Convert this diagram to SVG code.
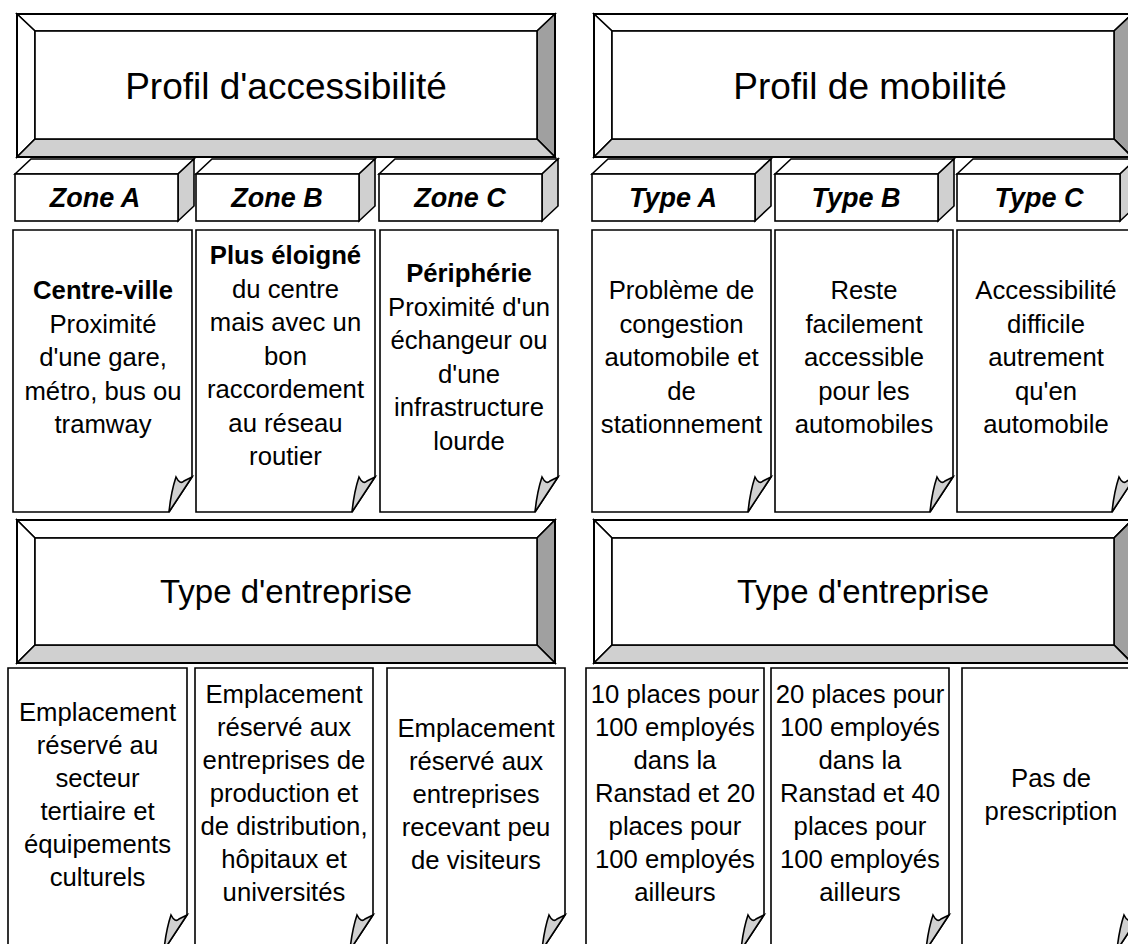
<svg xmlns="http://www.w3.org/2000/svg" width="1128" height="944" viewBox="0 0 1128 944">
<style>
.ln{stroke:#000;stroke-width:1.6;stroke-linejoin:miter}
.w{fill:#fff}
.g1{fill:#d0d0d0}
.g2{fill:#a0a0a0}
.title{font-family:"Liberation Sans",Arial,sans-serif;font-size:37px;fill:#000;text-anchor:middle}
.zone{font-family:"Liberation Sans",Arial,sans-serif;font-size:27px;font-weight:bold;font-style:italic;fill:#000;text-anchor:middle}
.card{font-family:"Liberation Sans",Arial,sans-serif;font-size:25.7px;fill:#000;text-anchor:middle}
.b{font-weight:bold}
</style>
<rect width="1128" height="944" fill="#fff"/>

<!-- Bevel title boxes -->
<g id="profil-accessibilite">
<polygon class="w ln" points="17,14 555,14 537,31 35,31"/>
<polygon class="w ln" points="17,14 35,31 35,139 17,157"/>
<polygon class="g2 ln" points="555,14 555,157 537,139 537,31"/>
<polygon class="g1 ln" points="17,157 35,139 537,139 555,157"/>
<rect class="w ln" x="35" y="31" width="502" height="108"/>
<rect x="17" y="14" width="538" height="143" fill="none" stroke="#000" stroke-width="2"/>
<text class="title" x="286" y="99">Profil d'accessibilité</text>
</g>
<g id="profil-mobilite">
<polygon class="w ln" points="594,14 1132,14 1114,31 612,31"/>
<polygon class="w ln" points="594,14 612,31 612,139 594,157"/>
<polygon class="g2 ln" points="1132,14 1132,157 1114,139 1114,31"/>
<polygon class="g1 ln" points="594,157 612,139 1114,139 1132,157"/>
<rect class="w ln" x="612" y="31" width="502" height="108"/>
<rect x="594" y="14" width="538" height="143" fill="none" stroke="#000" stroke-width="2"/>
<text class="title" x="870" y="99">Profil de mobilité</text>
</g>
<g id="type-entreprise-left">
<polygon class="w ln" points="17,520 555,520 537,538 35,538"/>
<polygon class="w ln" points="17,520 35,538 35,645 17,663"/>
<polygon class="g2 ln" points="555,520 555,663 537,645 537,538"/>
<polygon class="g1 ln" points="17,663 35,645 537,645 555,663"/>
<rect class="w ln" x="35" y="538" width="502" height="107"/>
<rect x="17" y="520" width="538" height="143" fill="none" stroke="#000" stroke-width="2"/>
<text class="title" x="286" y="603" style="font-size:33px">Type d'entreprise</text>
</g>
<g id="type-entreprise-right">
<polygon class="w ln" points="594,520 1132,520 1114,538 612,538"/>
<polygon class="w ln" points="594,520 612,538 612,645 594,663"/>
<polygon class="g2 ln" points="1132,520 1132,663 1114,645 1114,538"/>
<polygon class="g1 ln" points="594,663 612,645 1114,645 1132,663"/>
<rect class="w ln" x="612" y="538" width="502" height="107"/>
<rect x="594" y="520" width="538" height="143" fill="none" stroke="#000" stroke-width="2"/>
<text class="title" x="863" y="603" style="font-size:33px">Type d'entreprise</text>
</g>

<!-- 3D label boxes -->
<g id="zone-a">
<polygon class="w ln" points="15,174 31,159 194,159 178,174"/>
<polygon class="g1 ln" points="178,174 194,159 194,206 178,221"/>
<rect class="w ln" x="15" y="174" width="163" height="47"/>
<text class="zone" x="95" y="207">Zone A</text>
</g>
<g id="zone-b">
<polygon class="w ln" points="196,174 212,159 375,159 359,174"/>
<polygon class="g1 ln" points="359,174 375,159 375,206 359,221"/>
<rect class="w ln" x="196" y="174" width="163" height="47"/>
<text class="zone" x="277" y="207">Zone B</text>
</g>
<g id="zone-c">
<polygon class="w ln" points="379,174 395,159 558,159 542,174"/>
<polygon class="g1 ln" points="542,174 558,159 558,206 542,221"/>
<rect class="w ln" x="379" y="174" width="163" height="47"/>
<text class="zone" x="460" y="207">Zone C</text>
</g>
<g id="type-a">
<polygon class="w ln" points="592,174 608,159 771,159 755,174"/>
<polygon class="g1 ln" points="755,174 771,159 771,206 755,221"/>
<rect class="w ln" x="592" y="174" width="163" height="47"/>
<text class="zone" x="673" y="207">Type A</text>
</g>
<g id="type-b">
<polygon class="w ln" points="775,174 791,159 954,159 938,174"/>
<polygon class="g1 ln" points="938,174 954,159 954,206 938,221"/>
<rect class="w ln" x="775" y="174" width="163" height="47"/>
<text class="zone" x="856" y="207">Type B</text>
</g>
<g id="type-c">
<polygon class="w ln" points="957,174 973,159 1136,159 1120,174"/>
<polygon class="g1 ln" points="1120,174 1136,159 1136,206 1120,221"/>
<rect class="w ln" x="957" y="174" width="163" height="47"/>
<text class="zone" x="1039" y="207">Type C</text>
</g>

<!-- Row 1 cards -->
<g id="card-zone-a">
<path class="w ln" d="M13,230 H192 V477 L169,512 H13 Z"/>
<path class="g1 ln" d="M169,512 Q171,492 176,477 Q180,485 184,481 L192,477 Z"/>
<text class="card"><tspan class="b" x="103" y="299">Centre-ville</tspan><tspan x="103" dy="33.5">Proximité</tspan><tspan x="103" dy="33.5">d'une gare,</tspan><tspan x="103" dy="33.5">métro, bus ou</tspan><tspan x="103" dy="33.5">tramway</tspan></text>
</g>
<g id="card-zone-b">
<path class="w ln" d="M196,230 H375 V477 L352,512 H196 Z"/>
<path class="g1 ln" d="M352,512 Q354,492 359,477 Q363,485 367,481 L375,477 Z"/>
<text class="card"><tspan class="b" x="285.5" y="264">Plus éloigné</tspan><tspan x="285.5" dy="33.5">du centre</tspan><tspan x="285.5" dy="33.5">mais avec un</tspan><tspan x="285.5" dy="33.5">bon</tspan><tspan x="285.5" dy="33.5">raccordement</tspan><tspan x="285.5" dy="33.5">au réseau</tspan><tspan x="285.5" dy="33.5">routier</tspan></text>
</g>
<g id="card-zone-c">
<path class="w ln" d="M380,230 H558 V477 L535,512 H380 Z"/>
<path class="g1 ln" d="M535,512 Q537,492 542,477 Q546,485 550,481 L558,477 Z"/>
<text class="card"><tspan class="b" x="469" y="282">Périphérie</tspan><tspan x="469" dy="33.5">Proximité d'un</tspan><tspan x="469" dy="33.5">échangeur ou</tspan><tspan x="469" dy="33.5">d'une</tspan><tspan x="469" dy="33.5">infrastructure</tspan><tspan x="469" dy="33.5">lourde</tspan></text>
</g>
<g id="card-type-a">
<path class="w ln" d="M592,230 H771 V477 L748,512 H592 Z"/>
<path class="g1 ln" d="M748,512 Q750,492 755,477 Q759,485 763,481 L771,477 Z"/>
<text class="card"><tspan x="681.5" y="299">Problème de</tspan><tspan x="681.5" dy="33.5">congestion</tspan><tspan x="681.5" dy="33.5">automobile et</tspan><tspan x="681.5" dy="33.5">de</tspan><tspan x="681.5" dy="33.5">stationnement</tspan></text>
</g>
<g id="card-type-b">
<path class="w ln" d="M775,230 H953 V477 L930,512 H775 Z"/>
<path class="g1 ln" d="M930,512 Q932,492 937,477 Q941,485 945,481 L953,477 Z"/>
<text class="card"><tspan x="864" y="299">Reste</tspan><tspan x="864" dy="33.5">facilement</tspan><tspan x="864" dy="33.5">accessible</tspan><tspan x="864" dy="33.5">pour les</tspan><tspan x="864" dy="33.5">automobiles</tspan></text>
</g>
<g id="card-type-c">
<path class="w ln" d="M957,230 H1135 V477 L1112,512 H957 Z"/>
<path class="g1 ln" d="M1112,512 Q1114,492 1119,477 Q1123,485 1127,481 L1135,477 Z"/>
<text class="card"><tspan x="1046" y="299">Accessibilité</tspan><tspan x="1046" dy="33.5">difficile</tspan><tspan x="1046" dy="33.5">autrement</tspan><tspan x="1046" dy="33.5">qu'en</tspan><tspan x="1046" dy="33.5">automobile</tspan></text>
</g>

<!-- Row 2 cards -->
<g id="card-ent-a">
<path class="w ln" d="M8,668 H187 V915 L164,950 H8 Z"/>
<path class="g1 ln" d="M164,950 Q166,930 171,915 Q175,923 179,919 L187,915 Z"/>
<text class="card"><tspan x="97.5" y="720.5">Emplacement</tspan><tspan x="97.5" dy="33">réservé au</tspan><tspan x="97.5" dy="33">secteur</tspan><tspan x="97.5" dy="33">tertiaire et</tspan><tspan x="97.5" dy="33">équipements</tspan><tspan x="97.5" dy="33">culturels</tspan></text>
</g>
<g id="card-ent-b">
<path class="w ln" d="M195,668 H373 V915 L350,950 H195 Z"/>
<path class="g1 ln" d="M350,950 Q352,930 357,915 Q361,923 365,919 L373,915 Z"/>
<text class="card"><tspan x="284" y="703">Emplacement</tspan><tspan x="284" dy="33">réservé aux</tspan><tspan x="284" dy="33">entreprises de</tspan><tspan x="284" dy="33">production et</tspan><tspan x="284" dy="33">de distribution,</tspan><tspan x="284" dy="33">hôpitaux et</tspan><tspan x="284" dy="33">universités</tspan></text>
</g>
<g id="card-ent-c">
<path class="w ln" d="M387,668 H565 V915 L542,950 H387 Z"/>
<path class="g1 ln" d="M542,950 Q544,930 549,915 Q553,923 557,919 L565,915 Z"/>
<text class="card"><tspan x="476" y="737">Emplacement</tspan><tspan x="476" dy="33">réservé aux</tspan><tspan x="476" dy="33">entreprises</tspan><tspan x="476" dy="33">recevant peu</tspan><tspan x="476" dy="33">de visiteurs</tspan></text>
</g>
<g id="card-park-a">
<path class="w ln" d="M586,668 H764 V915 L741,950 H586 Z"/>
<path class="g1 ln" d="M741,950 Q743,930 748,915 Q752,923 756,919 L764,915 Z"/>
<text class="card"><tspan x="675" y="703">10 places pour</tspan><tspan x="675" dy="33">100 employés</tspan><tspan x="675" dy="33">dans la</tspan><tspan x="675" dy="33">Ranstad et 20</tspan><tspan x="675" dy="33">places pour</tspan><tspan x="675" dy="33">100 employés</tspan><tspan x="675" dy="33">ailleurs</tspan></text>
</g>
<g id="card-park-b">
<path class="w ln" d="M771,668 H949 V915 L926,950 H771 Z"/>
<path class="g1 ln" d="M926,950 Q928,930 933,915 Q937,923 941,919 L949,915 Z"/>
<text class="card"><tspan x="860" y="703">20 places pour</tspan><tspan x="860" dy="33">100 employés</tspan><tspan x="860" dy="33">dans la</tspan><tspan x="860" dy="33">Ranstad et 40</tspan><tspan x="860" dy="33">places pour</tspan><tspan x="860" dy="33">100 employés</tspan><tspan x="860" dy="33">ailleurs</tspan></text>
</g>
<g id="card-park-c">
<path class="w ln" d="M962,668 H1140 V915 L1117,950 H962 Z"/>
<path class="g1 ln" d="M1117,950 Q1119,930 1124,915 Q1128,923 1132,919 L1140,915 Z"/>
<text class="card"><tspan x="1051" y="786.5">Pas de</tspan><tspan x="1051" dy="33">prescription</tspan></text>
</g>

<g id="connectors"/>
</svg>
